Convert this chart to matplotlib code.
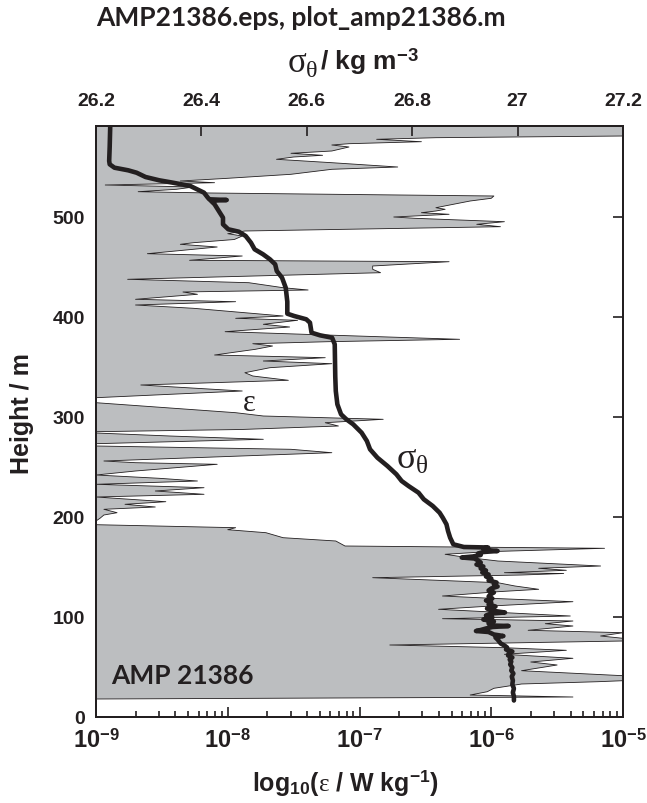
import numpy as np
import matplotlib
matplotlib.use('Agg')
import matplotlib.pyplot as plt

# ---------------- data ----------------
# dissipation profile: height (m) and log10(epsilon / W kg^-1)
height_eps = [590.5, 580.5, 578.8, 577.2, 574.8, 572.8, 571.5, 569.5, 565.5, 563.2,
              561.2, 559.5, 557.2, 553.8, 549.5, 547.2, 542.2, 538.2, 535.5, 533.8,
              531.5, 529.5, 527.2, 524.8, 523.5, 520.5, 518.2, 515.5, 508.8, 507.2,
              505.5, 503.8, 502.2, 499.5, 498.2, 494.8, 492.2, 489.8, 485.5, 482.8,
              480.5, 477.0, 473.8, 472.2, 469.5, 462.8, 460.5, 456.2, 454.8, 450.5,
              447.2, 443.8, 437.2, 433.8, 428.8, 426.5, 424.5, 422.2, 417.2, 414.8,
              411.5, 408.2, 400.5, 398.2, 396.2, 392.2, 389.5, 384.8, 382.2, 377.2,
              374.8, 372.8, 370.5, 367.2, 361.5, 358.8, 355.5, 352.8, 348.8, 343.8,
              340.5, 336.2, 331.5, 328.2, 325.5, 318.8, 313.8, 303.8, 300.5, 297.2,
              293.8, 290.5, 287.0, 284.8, 283.5, 280.5, 277.2, 272.8, 270.5, 267.2,
              263.8, 260.0, 255.5, 253.8, 252.2, 245.5, 241.5, 238.2, 235.5, 232.2,
              228.8, 225.5, 222.2, 219.5, 214.8, 212.2, 209.5, 207.2, 203.8, 201.5,
              198.2, 195.5, 191.8, 188.8, 186.8, 183.8, 178.8, 175.5, 170.5, 168.2,
              164.8, 162.2, 159.5, 155.5, 150.5, 148.2, 146.2, 143.8, 143.0, 141.5,
              138.8, 133.8, 130.5, 127.2, 124.8, 120.5, 118.2, 114.8, 110.5, 107.2,
              103.8, 100.5, 97.8, 95.5, 92.8, 90.5, 86.2, 83.8, 80.5, 78.2,
              75.5, 71.5, 68.8, 66.2, 62.2, 58.2, 54.5, 51.5, 45.8, 40.8,
              35.8, 34.8, 32.5, 28.2, 24.8, 21.5, 19.5, 17.5]
log_eps = [-5.00, -5.00, -6.42, -6.87, -6.53, -7.08, -7.21, -7.08, -7.21, -7.52,
           -7.28, -7.50, -7.63, -7.21, -6.71, -7.21, -7.52, -8.00, -8.36, -8.10,
           -8.93, -8.26, -8.39, -8.68, -8.13, -5.98, -6.00, -6.16, -6.42, -6.35,
           -6.42, -6.53, -6.32, -6.74, -6.58, -5.90, -6.11, -5.93, -7.87, -8.00,
           -7.89, -7.95, -8.26, -8.36, -8.08, -8.61, -7.89, -8.29, -6.32, -6.90,
           -6.90, -6.84, -8.76, -7.84, -7.58, -7.39, -8.34, -8.23, -8.70, -7.94,
           -8.70, -8.26, -7.58, -7.94, -7.47, -7.73, -7.53, -8.02, -7.42, -6.24,
           -7.24, -7.81, -7.66, -7.79, -8.10, -7.26, -7.73, -7.21, -7.68, -7.87,
           -7.81, -7.54, -8.66, -8.23, -7.89, -9.00, -9.00, -7.94, -7.73, -6.82,
           -7.26, -7.16, -7.90, -9.00, -9.00, -8.44, -7.73, -9.00, -9.00, -7.52,
           -7.21, -8.00, -8.94, -8.70, -8.08, -8.70, -9.00, -8.52, -8.23, -9.00,
           -8.18, -8.55, -8.18, -9.00, -8.47, -8.78, -8.55, -8.94, -8.84, -8.94,
           -8.97, -9.00, -9.00, -7.94, -8.00, -7.71, -7.58, -7.18, -7.11, -5.14,
           -6.03, -6.35, -6.21, -5.95, -5.17, -5.64, -5.43, -5.90, -5.45, -5.77,
           -6.90, -5.95, -5.82, -5.64, -5.95, -6.37, -6.00, -5.38, -6.00, -6.40,
           -5.90, -5.40, -6.37, -5.38, -5.59, -5.38, -5.72, -5.00, -5.17, -5.00,
           -5.00, -6.77, -5.90, -5.43, -5.90, -5.38, -5.70, -5.50, -5.77, -5.00,
           -5.00, -5.19, -5.77, -5.98, -6.03, -6.16, -5.38, -9.00]

# potential density profile: height (m) and sigma_theta (kg m^-3)
height_sigma = [590.5, 570.0, 555.5, 552.2, 548.8, 546.2, 543.8, 539.5, 536.2, 533.8,
                530.5, 527.2, 523.8, 519.0, 517.2, 516.5, 515.8, 512.2, 505.5, 498.8,
                492.2, 487.2, 484.8, 480.5, 473.8, 467.2, 462.2, 457.2, 452.2, 445.5,
                438.8, 428.8, 414.8, 402.8, 400.5, 397.2, 393.8, 383.8, 381.2, 378.8,
                372.2, 340.0, 325.5, 312.2, 302.2, 297.2, 292.2, 283.8, 275.5, 267.2,
                258.8, 250.5, 242.2, 235.5, 230.5, 223.8, 217.2, 210.5, 203.8, 198.8,
                192.2, 185.5, 178.8, 172.2, 169.5, 169.0, 168.0, 166.5, 165.5, 164.5,
                163.0, 161.5, 160.0, 159.0, 158.0, 156.0, 154.0, 152.0, 150.0, 148.0,
                146.0, 144.0, 142.0, 140.0, 138.0, 136.0, 134.0, 132.0, 130.0, 128.0,
                126.0, 124.0, 122.0, 120.0, 118.0, 116.0, 114.0, 112.0, 110.0, 108.0,
                106.0, 104.0, 103.0, 101.0, 99.0, 97.0, 95.0, 93.0, 91.0, 90.5,
                89.5, 88.0, 86.5, 85.5, 84.5, 82.0, 80.5, 79.0, 77.0, 75.0,
                73.0, 71.0, 69.0, 67.0, 65.0, 63.0, 61.0, 59.0, 57.0, 55.0,
                52.0, 49.0, 46.0, 43.0, 40.0, 36.0, 32.0, 28.0, 24.0, 20.0,
                16.0]
sigma_theta = [26.227, 26.226, 26.225, 26.226, 26.235, 26.261, 26.277, 26.294, 26.320, 26.346,
               26.379, 26.392, 26.405, 26.412, 26.415, 26.448, 26.418, 26.425, 26.433, 26.441,
               26.441, 26.451, 26.471, 26.484, 26.494, 26.501, 26.517, 26.530, 26.540, 26.543,
               26.553, 26.560, 26.563, 26.563, 26.576, 26.599, 26.606, 26.609, 26.625, 26.648,
               26.653, 26.654, 26.655, 26.658, 26.665, 26.675, 26.688, 26.704, 26.714, 26.720,
               26.734, 26.753, 26.770, 26.780, 26.793, 26.812, 26.822, 26.839, 26.852, 26.858,
               26.865, 26.868, 26.872, 26.878, 26.898, 26.944, 26.935, 26.940, 26.962, 26.935,
               26.925, 26.930, 26.915, 26.894, 26.918, 26.925, 26.930, 26.922, 26.935, 26.930,
               26.940, 26.933, 26.945, 26.940, 26.950, 26.945, 26.960, 26.955, 26.962, 26.950,
               26.945, 26.955, 26.948, 26.945, 26.952, 26.940, 26.950, 26.945, 26.958, 26.942,
               26.950, 26.976, 26.950, 26.940, 26.952, 26.935, 26.955, 26.945, 26.950, 26.983,
               26.952, 26.940, 26.930, 26.921, 26.945, 26.955, 26.973, 26.958, 26.962, 26.965,
               26.968, 26.975, 26.980, 26.978, 26.990, 26.983, 26.982, 26.990, 26.985, 26.988,
               26.986, 26.990, 26.988, 26.992, 26.989, 26.991, 26.990, 26.993, 26.991, 26.993,
               26.993]

eps_ticks = [1e-9, 1e-8, 1e-7, 1e-6, 1e-5]
eps_ticklabels = [r'$10^{-9}$', r'$10^{-8}$', r'$10^{-7}$', r'$10^{-6}$', r'$10^{-5}$']
sigma_ticks = [26.2, 26.4, 26.6, 26.8, 27.0, 27.2]
sigma_ticklabels = ['26.2', '26.4', '26.6', '26.8', '27', '27.2']
height_ticks = [0, 100, 200, 300, 400, 500]
height_ticklabels = ['0', '100', '200', '300', '400', '500']

# ---------------- style ----------------
plt.rcParams['font.family'] = ['Liberation Sans', 'DejaVu Sans']
plt.rcParams['font.weight'] = 'bold'
plt.rcParams['mathtext.fontset'] = 'custom'
plt.rcParams['mathtext.rm'] = 'Liberation Sans:bold'
plt.rcParams['mathtext.bf'] = 'Liberation Sans:bold'
plt.rcParams['mathtext.it'] = 'Liberation Serif:weight=normal'
plt.rcParams['mathtext.default'] = 'it'

INK = '#231f20'
GREY = '#bcbec0'
W, H = 647, 804

fig = plt.figure(figsize=(W / 100, H / 100), dpi=100)
x0, x1, ytop, ybot = 96, 623, 127, 717.5
ax = fig.add_axes([x0 / W, 1 - ybot / H, (x1 - x0) / W, (ybot - ytop) / H])

eps = 10 ** np.array(log_eps)
ax.fill_betweenx(height_eps, 1e-9, eps, facecolor=GREY, edgecolor='none', zorder=1)
ax.plot(eps, height_eps, color=INK, lw=0.6, zorder=2)
ax.set_xscale('log')
ax.set_xlim(1e-9, 1e-5)
ax.set_ylim(0, 590.5)
ax.set_xticks(eps_ticks)
ax.set_xticklabels(eps_ticklabels)
ax.set_yticks(height_ticks)
ax.set_yticklabels(height_ticklabels)
ax.tick_params(which='both', direction='in', top=False, left=False, right=True,
               color=INK, width=1.2, labelcolor=INK)
ax.tick_params(which='major', length=7)
ax.tick_params(which='minor', length=4)
ax.tick_params(axis='x', labelsize=17, pad=8)
ax.tick_params(axis='y', labelleft=True, labelsize=14, pad=8)

for s in ax.spines.values():
    s.set_linewidth(1.4)
    s.set_color(INK)

ax2 = ax.twiny()
ax2.plot(sigma_theta, height_sigma, color=INK, lw=3.3, solid_joinstyle='round',
         solid_capstyle='round', zorder=3)
ax2.set_xlim(26.2, 27.2)
ax2.set_xticks(sigma_ticks)
ax2.set_xticklabels(sigma_ticklabels)
ax2.tick_params(direction='in', length=7, width=1.2, labelsize=14, pad=12,
                color=INK, labelcolor=INK)
ax2.minorticks_off()
for s in ax2.spines.values():
    s.set_linewidth(1.4)
    s.set_color(INK)

# in-plot labels
ax.text(10 ** -7.84, 313.5, 'ε', family='Liberation Serif', weight='normal',
        fontsize=22, ha='center', va='center', color=INK, zorder=4)
ax2.text(26.80, 258, r'$\sigma_\theta$', fontsize=26, ha='center', va='center',
         color=INK, zorder=4)
fig.text(111 / W, 1 - 676 / H, 'AMP 21386', family='Lato', weight='bold',
         fontsize=19, ha='left', va='center', color=INK)

# axis labels and title
fig.text(318 / W, 1 - 64 / H, r'$\sigma_\theta$', fontsize=25,
         ha='right', va='center', color=INK)
fig.text(320 / W, 1 - 62 / H, r'/ kg m$^{-3}$', fontsize=19,
         ha='left', va='center', color=INK)
fig.text(346 / W, 1 - 783 / H, r'log$_{10}$($\varepsilon$ / W kg$^{-1}$)', fontsize=18,
         ha='center', va='center', color=INK)
fig.text(22 / W, 1 - 414 / H, 'Height / m', fontsize=18, rotation=90,
         ha='center', va='center', color=INK)
fig.text(301 / W, 1 - 18 / H, 'AMP21386.eps, plot_amp21386.m', family='Lato',
         weight='bold', fontsize=19, ha='center', va='center', color=INK)

fig.savefig('out.png', dpi=100)
